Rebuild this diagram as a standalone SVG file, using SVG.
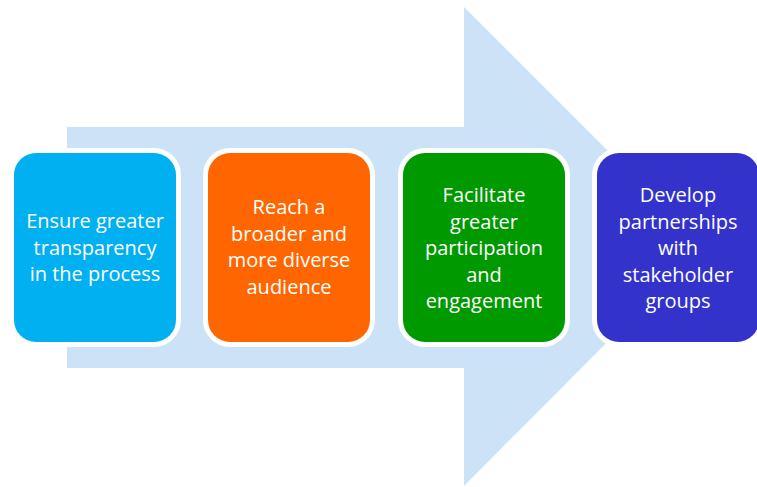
<svg xmlns="http://www.w3.org/2000/svg" width="757" height="487" viewBox="0 0 757 487">
<style>
.box{stroke:#fff;stroke-width:10;paint-order:stroke}
.t{font-family:"Open Sans","Liberation Sans",sans-serif;font-size:20px;fill:#fff;text-anchor:middle}
</style>
<rect width="757" height="487" fill="#fff"/>
<g id="arrow">
<polygon points="67,127 464,127 464,7 703,246 464,486 464,368 67,368" fill="#cce3f7"/>
</g>
<g id="node1">
<rect class="box" x="14" y="153" width="162" height="189" rx="22" fill="#00b0f0"/>
<text class="t" x="95" y="228">Ensure greater</text>
<text class="t" x="95" y="254.5">transparency</text>
<text class="t" x="95" y="281">in the process</text>
</g>
<g id="node2">
<rect class="box" x="208" y="153" width="162" height="189" rx="22" fill="#ff6600"/>
<text class="t" x="289" y="214">Reach a</text>
<text class="t" x="289" y="240.5">broader and</text>
<text class="t" x="289" y="267">more diverse</text>
<text class="t" x="289" y="293.5">audience</text>
</g>
<g id="node3">
<rect class="box" x="403" y="153" width="162" height="189" rx="22" fill="#009900"/>
<text class="t" x="484" y="202">Facilitate</text>
<text class="t" x="484" y="228.5">greater</text>
<text class="t" x="484" y="255">participation</text>
<text class="t" x="484" y="281.5">and</text>
<text class="t" x="484" y="308">engagement</text>
</g>
<g id="node4">
<rect class="box" x="597" y="153" width="162" height="189" rx="22" fill="#3333cc"/>
<text class="t" x="678" y="202">Develop</text>
<text class="t" x="678" y="228.5">partnerships</text>
<text class="t" x="678" y="255">with</text>
<text class="t" x="678" y="281.5">stakeholder</text>
<text class="t" x="678" y="308">groups</text>
</g>
<g id="connectors"/>
</svg>
